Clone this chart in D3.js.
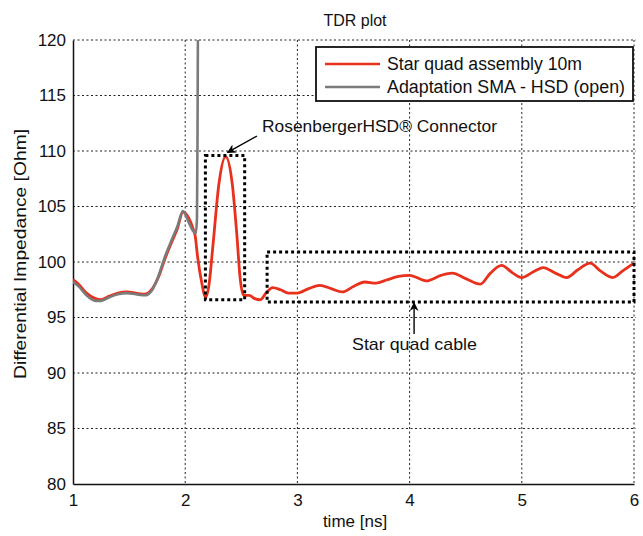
<!DOCTYPE html>
<html><head><meta charset="utf-8">
<script src="https://cdn.jsdelivr.net/npm/d3@7"></script>
<style>
body{margin:0;background:#fff;}
text{font-family:"Liberation Sans",Arial,Helvetica,sans-serif;fill:#111;}
</style></head>
<body><svg id="c" width="643" height="536"></svg>
<script>
// ---- data ----
const xTicks = [1,2,3,4,5,6];
const yTicks = [80,85,90,95,100,105,110,115,120];
const seriesNames = ["Star quad assembly 10m","Adaptation SMA - HSD (open)"];
const redT = [1.00,1.05,1.12,1.20,1.25,1.32,1.40,1.48,1.56,1.64,1.70,1.76,1.82,1.88,1.93,1.98,2.03,2.07,2.09,2.11,2.15,2.18,2.21,2.25,2.30,2.36,2.42,2.46,2.49,2.52,2.57,2.62,2.67,2.72,2.78,2.85,2.92,3.00,3.10,3.20,3.30,3.40,3.50,3.60,3.70,3.80,3.90,4.00,4.15,4.28,4.38,4.50,4.63,4.72,4.82,4.92,5.00,5.10,5.19,5.30,5.40,5.50,5.61,5.70,5.81,5.90,6.00];
const redV = [98.4,98.0,97.2,96.7,96.6,96.9,97.2,97.3,97.2,97.1,97.5,98.6,100.3,101.8,103.0,104.5,104.0,103.0,102.3,100.5,98.0,96.8,97.8,101.8,107.0,109.5,107.0,102.5,98.5,97.0,97.0,96.7,96.6,97.2,97.7,97.5,97.2,97.2,97.6,97.9,97.6,97.3,97.8,98.2,98.1,98.4,98.7,98.8,98.3,98.8,99.0,98.5,98.0,99.0,99.7,99.0,98.6,99.1,99.5,99.0,98.6,99.3,99.9,99.2,98.6,99.2,99.9];
const grayT = [1.00,1.05,1.12,1.20,1.25,1.32,1.40,1.48,1.56,1.64,1.70,1.76,1.82,1.88,1.93,1.98,2.03,2.07,2.095,2.105,2.11,2.115];
const grayV = [98.2,97.8,97.0,96.5,96.5,96.8,97.1,97.2,97.1,97.0,97.4,98.7,100.5,102.0,103.2,104.6,103.6,102.8,102.6,104.0,112.0,125.0];
// annotation boxes [t0,t1,v0,v1]
const connectorBox = [2.18,2.53,96.6,109.6];
const cableBox = [2.73,6.0,96.4,100.9];

const svg = d3.select("#c");
const L=73,R=634,T=40,B=484;
const x = d3.scaleLinear().domain([1,6]).range([L,R]);
const y = d3.scaleLinear().domain([80,120]).range([B,T]);

svg.append("rect").attr("width",643).attr("height",536).attr("fill","#fff");

// grid
const g = svg.append("g");
g.selectAll(".gx").data(xTicks.slice(1)).enter().append("line")
 .attr("x1",d=>x(d)).attr("x2",d=>x(d)).attr("y1",T).attr("y2",B)
 .attr("stroke","#222").attr("stroke-width",1).attr("stroke-dasharray","2,2.5");
g.selectAll(".gy").data(yTicks.slice(1)).enter().append("line")
 .attr("x1",L).attr("x2",R+2).attr("y1",d=>y(d)).attr("y2",d=>y(d))
 .attr("stroke","#222").attr("stroke-width",1).attr("stroke-dasharray","2,2.5");

// axes
const xa = svg.append("g").attr("transform",`translate(0,${B})`)
 .call(d3.axisBottom(x).tickValues(xTicks).tickSize(0).tickPadding(10).tickFormat(d3.format("d")));
const ya = svg.append("g").attr("transform",`translate(${L},0)`)
 .call(d3.axisLeft(y).tickValues(yTicks).tickSize(0).tickPadding(7).tickFormat(d3.format("d")));
[xa,ya].forEach(a=>{a.select(".domain").attr("stroke","#111").attr("stroke-width",1.5);
 a.selectAll("text").attr("font-size",17).attr("font-family","Liberation Sans, Arial").attr("fill","#111");});

// clip
svg.append("clipPath").attr("id","clip").append("rect").attr("x",L).attr("y",T).attr("width",R-L+2).attr("height",B-T);

const line = d3.line().x(d=>x(d[0])).y(d=>y(d[1])).curve(d3.curveMonotoneX);
const redData = redT.map((t,i)=>[t,redV[i]]);
const grayData = grayT.map((t,i)=>[t,grayV[i]]);
const lines = svg.append("g").attr("clip-path","url(#clip)");
lines.append("path").attr("d",line(redData)).attr("fill","none").attr("stroke","#e8301c").attr("stroke-width",2.8);
lines.append("path").attr("d",line(grayData)).attr("fill","none").attr("stroke","#7b7b7b").attr("stroke-width",2.6).attr("stroke-linejoin","round");

// annotation boxes
[connectorBox,cableBox].forEach(b=>{
 svg.append("rect").attr("x",x(b[0])).attr("y",y(b[3])).attr("width",x(b[1])-x(b[0])).attr("height",y(b[2])-y(b[3]))
  .attr("fill","none").attr("stroke","#000").attr("stroke-width",3).attr("stroke-dasharray","3,3");
});

// arrows
const defs = svg.append("defs");
defs.append("marker").attr("id","ah").attr("viewBox","0 0 10 10").attr("refX",9).attr("refY",5)
 .attr("markerWidth",11).attr("markerHeight",9).attr("markerUnits","userSpaceOnUse").attr("orient","auto")
 .append("path").attr("d","M0,0 L10,5 L0,10 L3,5 Z").attr("fill","#000");
svg.append("line").attr("x1",257).attr("y1",136).attr("x2",x(2.36)+2).attr("y2",y(109.6)-3)
 .attr("stroke","#000").attr("stroke-width",1.4).attr("marker-end","url(#ah)");
svg.append("line").attr("x1",x(4.04)).attr("y1",334).attr("x2",x(4.04)).attr("y2",y(96.4)+1)
 .attr("stroke","#000").attr("stroke-width",1.4).attr("marker-end","url(#ah)");

svg.append("text").attr("x",262).attr("y",132).attr("font-size",17).attr("textLength",235).attr("lengthAdjust","spacingAndGlyphs").text("RosenbergerHSD® Connector");
svg.append("text").attr("x",352).attr("y",350).attr("font-size",17).attr("textLength",125).attr("lengthAdjust","spacingAndGlyphs").text("Star quad cable");

// legend
const lg = svg.append("g");
lg.append("rect").attr("x",316).attr("y",47).attr("width",317).attr("height",54).attr("fill","#fff").attr("stroke","#111").attr("stroke-width",1.8);
const lcol = ["#e8301c","#7b7b7b"];
const lw = [195,238];
seriesNames.forEach((n,i)=>{
 const cy = 64 + i*23;
 lg.append("line").attr("x1",325).attr("x2",380).attr("y1",cy).attr("y2",cy).attr("stroke",lcol[i]).attr("stroke-width",2.6);
 lg.append("text").attr("x",387).attr("y",cy+6).attr("font-size",18).attr("textLength",lw[i]).attr("lengthAdjust","spacingAndGlyphs").text(n);
});

// titles
svg.append("text").attr("x",355).attr("y",26).attr("text-anchor","middle").attr("font-size",16).text("TDR plot");
svg.append("text").attr("x",355).attr("y",527).attr("text-anchor","middle").attr("font-size",17).text("time [ns]");
svg.append("text").attr("transform","translate(26,254) rotate(-90)").attr("text-anchor","middle").attr("font-size",17).attr("textLength",250).attr("lengthAdjust","spacingAndGlyphs").text("Differential Impedance [Ohm]");
</script></body></html>
